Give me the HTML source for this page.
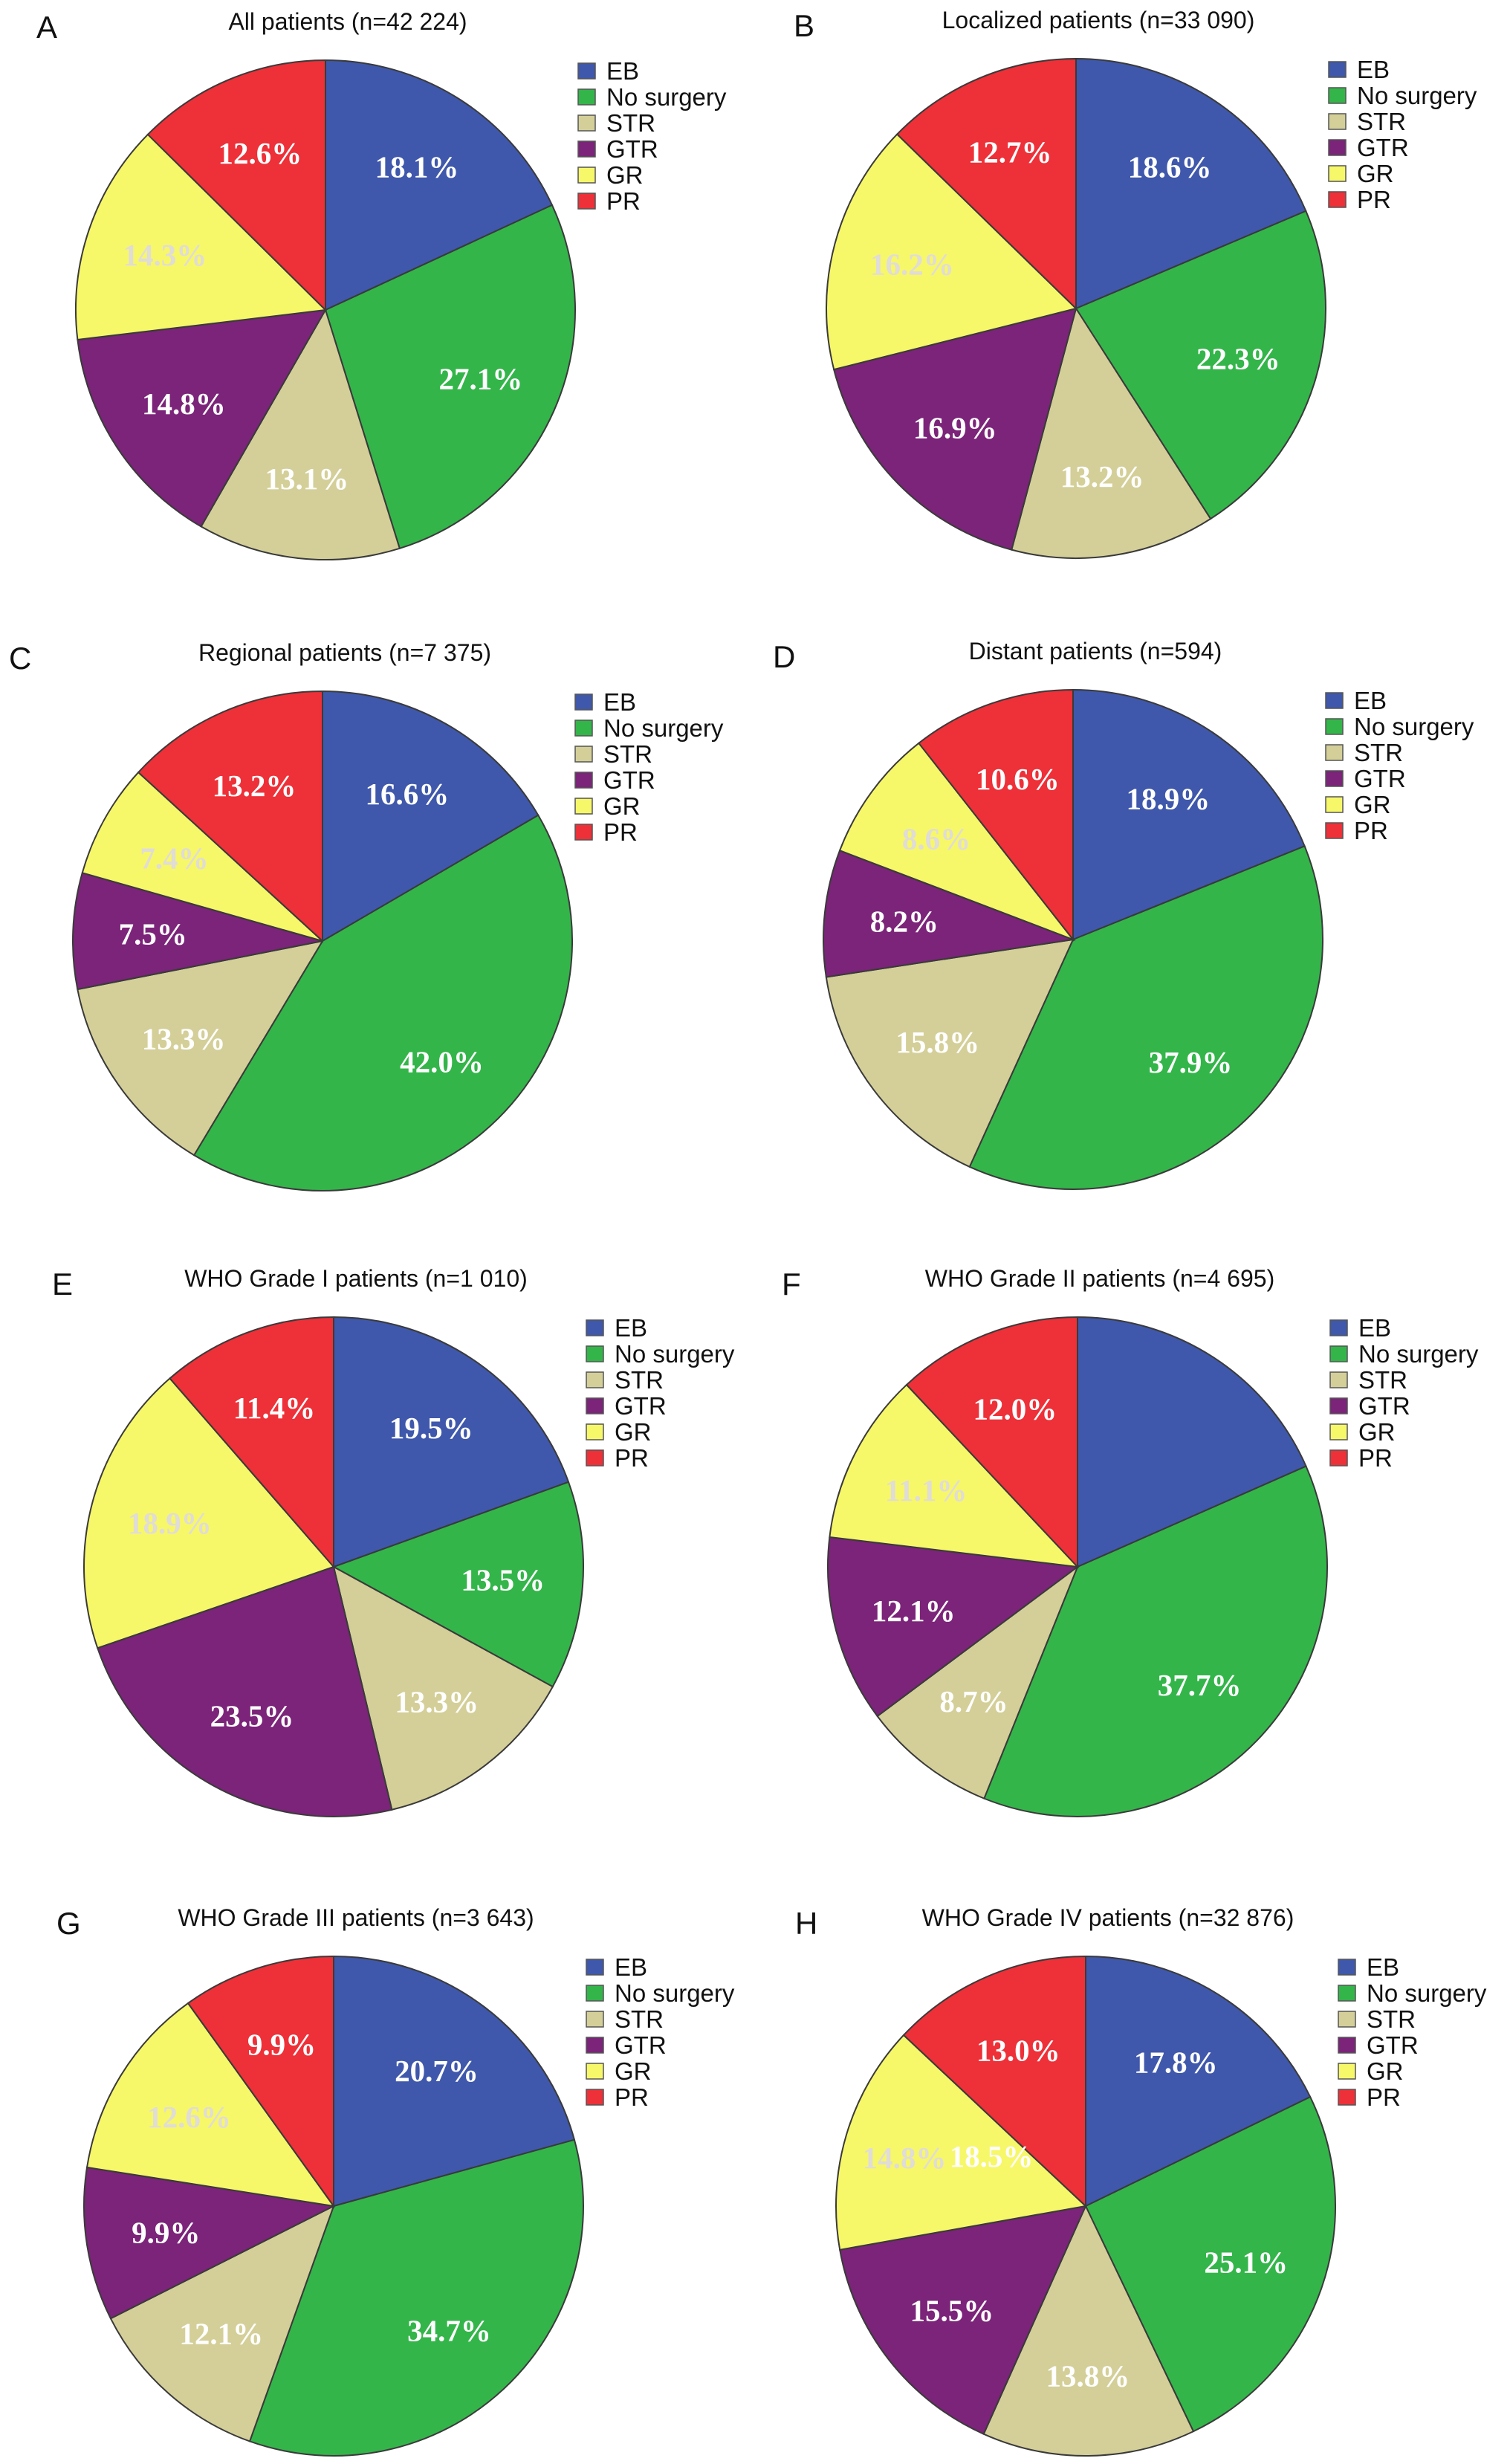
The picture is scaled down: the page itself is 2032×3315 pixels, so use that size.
<!DOCTYPE html>
<html><head><meta charset="utf-8"><style>
html,body{margin:0;padding:0;background:#fff}
svg{display:block}
</style></head><body>
<svg id="chart" xmlns="http://www.w3.org/2000/svg" width="2032" height="3315" viewBox="0 0 2032 3315"></svg>
<script>
const categories = ["EB","No surgery","STR","GTR","GR","PR"];
const panelLetters = ["A","B","C","D","E","F","G","H"];
const panelTitles = ["All patients (n=42 224)","Localized patients (n=33 090)","Regional patients (n=7 375)","Distant patients (n=594)","WHO Grade I patients (n=1 010)","WHO Grade II patients (n=4 695)","WHO Grade III patients (n=3 643)","WHO Grade IV patients (n=32 876)"];
const valuesA = [18.1,27.1,13.1,14.8,14.3,12.6];
const valuesB = [18.6,22.3,13.2,16.9,16.2,12.7];
const valuesC = [16.6,42.0,13.3,7.5,7.4,13.2];
const valuesD = [18.9,37.9,15.8,8.2,8.6,10.6];
const valuesE = [19.5,13.5,13.3,23.5,18.9,11.4];
const valuesF = [18.4,37.7,8.7,12.1,11.1,12.0];
const valuesG = [20.7,34.7,12.1,9.9,12.6,9.9];
const valuesH = [17.8,25.1,13.8,15.5,14.8,13.0];
const panelValues = [valuesA,valuesB,valuesC,valuesD,valuesE,valuesF,valuesG,valuesH];
const hiddenLabels = [[],[],[],[],[],[0],[],[]];

const colors = ["#3f58ab","#33b54a","#d4cf98","#7b2479","#f7f76a","#ee3038"];
const labelColors = ["#fff","#fff","#fff","#fff","#e0dcd8","#fff"];
const layout = [
 {cx:438,cy:417,lx:49},{cx:1448,cy:415,lx:1068},
 {cx:434,cy:1266,lx:12},{cx:1444,cy:1264,lx:1040},
 {cx:449,cy:2108,lx:70},{cx:1450,cy:2108,lx:1052},
 {cx:449,cy:2968,lx:76},{cx:1461,cy:2968,lx:1070}
];
const R = 336;
const NS = "http://www.w3.org/2000/svg";
const svg = document.getElementById('chart');
function mk(tag, attrs, parent){
  const e = document.createElementNS(NS, tag);
  for (const k in attrs) e.setAttribute(k, attrs[k]);
  parent.appendChild(e);
  return e;
}
function angleScale(cum, total){ return cum/total*2*Math.PI; }
function pt(cx,cy,r,a){ return [cx + r*Math.sin(a), cy - r*Math.cos(a)]; }

panelValues.forEach((vals, p) => {
  const L = layout[p];
  const g = mk('g', {}, svg);
  
  
  const letter = mk('text', {x:L.lx, y:L.cy-366, 'font-family':'Liberation Sans, sans-serif', 'font-size':42, fill:'#111'}, g);
  letter.textContent = panelLetters[p];
  
  
  const title = mk('text', {x:L.cx+30, y:L.cy-377, 'text-anchor':'middle', 'font-family':'Liberation Sans, sans-serif', 'font-size':32, fill:'#111'}, g);
  title.textContent = panelTitles[p];
  
  

  const total = vals.reduce((a,b)=>a+b,0);
  let cum = 0;
  vals.forEach((v,i) => {
    const a0 = angleScale(cum,total), a1 = angleScale(cum+v,total);
    const [x0,y0] = pt(L.cx,L.cy,R,a0), [x1,y1] = pt(L.cx,L.cy,R,a1);
    const large = (a1-a0) > Math.PI ? 1 : 0;
    const path = mk('path', {d:`M${L.cx},${L.cy} L${x0},${y0} A${R},${R} 0 ${large} 1 ${x1},${y1} Z`, fill:colors[i], stroke:'#3a3a3a', 'stroke-width':2}, g);
    
    
    cum += v;
  });
  cum = 0;
  vals.forEach((v,i) => {
    const am = angleScale(cum+v/2,total);
    cum += v;
    if (hiddenLabels[p].includes(i)) return;
    let [tx,ty] = pt(L.cx,L.cy,R*0.68,am);
    if (p === 7 && i === 4) tx -= 25;
    const t = mk('text', {x:tx, y:ty+14, 'text-anchor':'middle', 'font-family':'Liberation Serif, serif', 'font-weight':'bold', 'font-size':41, fill:labelColors[i]}, g);
    t.textContent = v.toFixed(1) + '%';
    
    
  });
  const lgx = L.cx + 340, lgy = L.cy - 332;
  categories.forEach((c,i) => {
    const r = mk('rect', {x:lgx, y:lgy + i*35, width:23, height:21, fill:colors[i], stroke:'#555', 'stroke-width':1.5}, g);
    
    
    const t = mk('text', {x:lgx+38, y:lgy + i*35 + 22, 'font-family':'Liberation Sans, sans-serif', 'font-size':33, fill:'#111'}, g);
    t.textContent = c;
    
    
  });
});
// stray overlapping label present in panel H of the original figure
const stray = mk('text', {x:1334, y:2915, 'text-anchor':'middle', 'font-family':'Liberation Serif, serif', 'font-weight':'bold', 'font-size':41, fill:'#fff'}, svg);
stray.textContent = '18.5%';


</script>
</body></html>
